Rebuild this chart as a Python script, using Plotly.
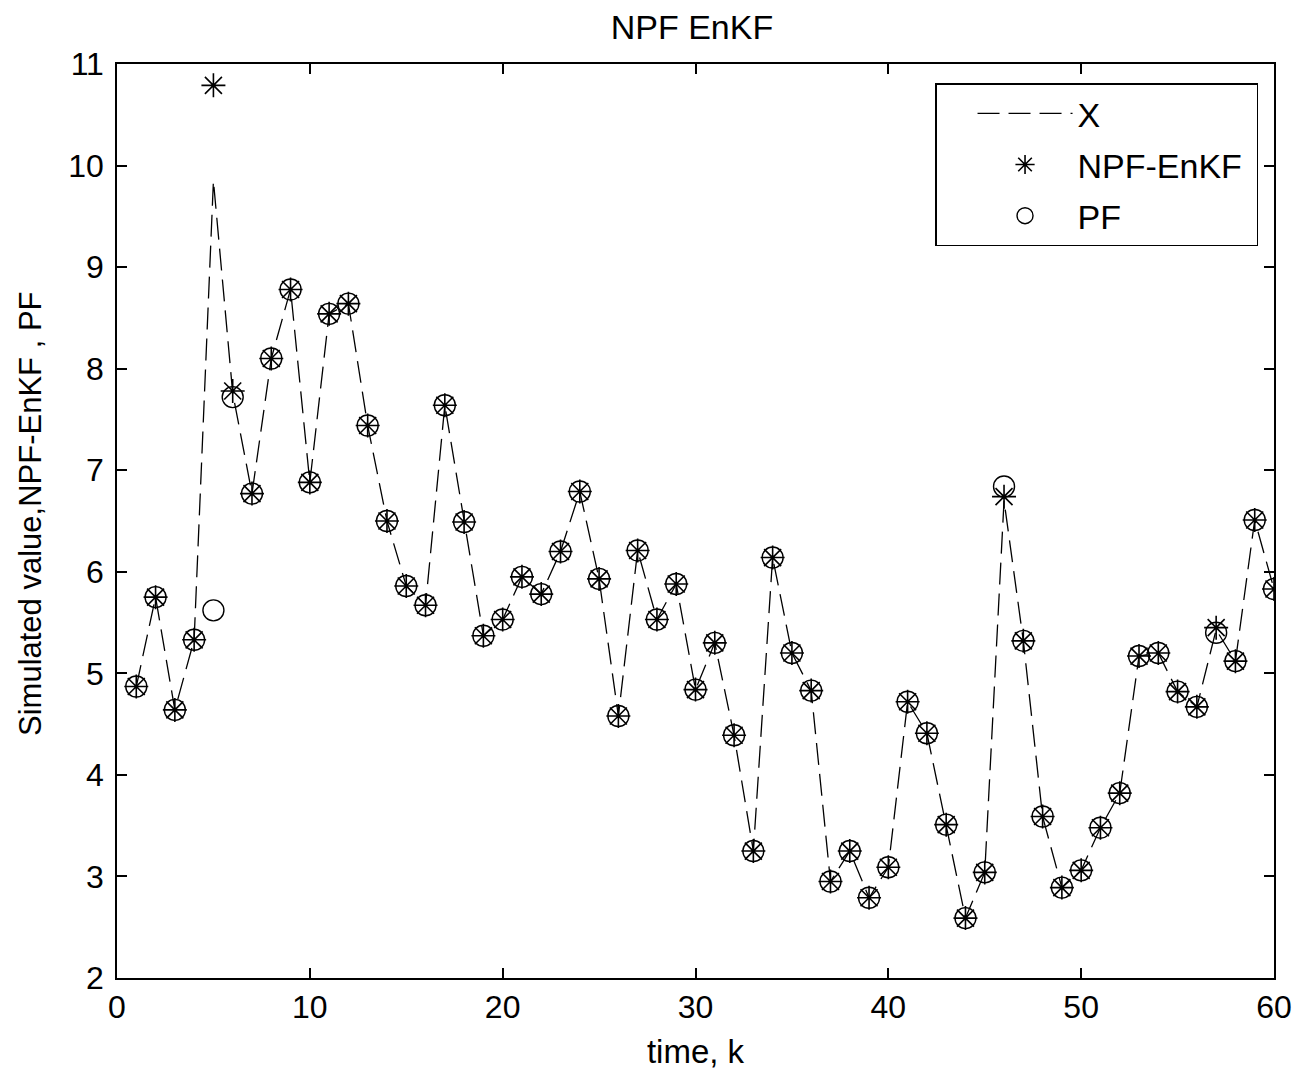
import plotly.graph_objects as go

k = list(range(1, 61))
x_true = [4.87, 5.75, 4.64, 5.33, 9.85, 7.76, 6.77, 8.10, 8.78, 6.88,
          8.54, 8.64, 7.44, 6.50, 5.86, 5.67, 7.64, 6.49, 5.37, 5.53,
          5.95, 5.78, 6.20, 6.79, 5.93, 4.58, 6.21, 5.53, 5.88, 4.84,
          5.30, 4.39, 3.25, 6.14, 5.20, 4.83, 2.95, 3.25, 2.79, 3.09,
          4.72, 4.41, 3.51, 2.59, 3.04, 6.70, 5.32, 3.59, 2.89, 3.06,
          3.48, 3.82, 5.17, 5.20, 4.82, 4.67, 5.43, 5.12, 6.51, 5.83]
npf_enkf = [4.87, 5.75, 4.64, 5.33, 10.79, 7.78, 6.77, 8.10, 8.78, 6.88,
            8.54, 8.64, 7.44, 6.50, 5.86, 5.67, 7.64, 6.49, 5.37, 5.53,
            5.95, 5.78, 6.20, 6.79, 5.93, 4.58, 6.21, 5.53, 5.88, 4.84,
            5.30, 4.39, 3.25, 6.14, 5.20, 4.83, 2.95, 3.25, 2.79, 3.09,
            4.72, 4.41, 3.51, 2.59, 3.04, 6.74, 5.32, 3.59, 2.89, 3.06,
            3.48, 3.82, 5.17, 5.20, 4.82, 4.67, 5.45, 5.12, 6.51, 5.83]
pf = [4.87, 5.75, 4.64, 5.33, 5.62, 7.72, 6.77, 8.10, 8.78, 6.88,
      8.54, 8.64, 7.44, 6.50, 5.86, 5.67, 7.64, 6.49, 5.37, 5.53,
      5.95, 5.78, 6.20, 6.79, 5.93, 4.58, 6.21, 5.53, 5.88, 4.84,
      5.30, 4.39, 3.25, 6.14, 5.20, 4.83, 2.95, 3.25, 2.79, 3.09,
      4.72, 4.41, 3.51, 2.59, 3.04, 6.84, 5.32, 3.59, 2.89, 3.06,
      3.48, 3.82, 5.17, 5.20, 4.82, 4.67, 5.40, 5.12, 6.51, 5.83]

x_ticks = [0, 10, 20, 30, 40, 50, 60]
y_ticks = [2, 3, 4, 5, 6, 7, 8, 9, 10, 11]

FONT = "Liberation Sans, Arial, sans-serif"

fig = go.Figure()
fig.add_trace(go.Scatter(
    x=k, y=x_true, mode="lines", name="X", legendgroup="a",
    line=dict(color="black", width=1.3, dash="22px,9px"),
))
fig.add_trace(go.Scatter(
    x=k, y=npf_enkf, mode="markers", name="NPF-EnKF\u00a0", legendgroup="b",
    marker=dict(symbol="asterisk-open", size=20, color="black",
                line=dict(color="black", width=1.6)),
))
fig.add_trace(go.Scatter(
    x=k, y=pf, mode="markers", name="PF", legendgroup="c",
    marker=dict(symbol="circle-open", size=21, color="black",
                line=dict(color="black", width=1.4)),
))

axis_common = dict(
    showgrid=False, zeroline=False, showline=True, linecolor="black",
    linewidth=1.5, mirror="ticks", ticks="inside", ticklen=10,
    tickcolor="black", tickwidth=1.5,
    tickfont=dict(family=FONT, size=32, color="black"),
)

fig.update_layout(
    width=1306, height=1074,
    margin=dict(l=109, r=40, t=56, b=104),
    paper_bgcolor="white", plot_bgcolor="white",
    font=dict(family=FONT, size=32, color="black"),
    title=dict(text="NPF EnKF", x=684 / 1306, xanchor="center",
               y=1 - 19 / 1074, yanchor="middle",
               font=dict(family=FONT, size=34, color="black")),
    xaxis=dict(range=[0, 60], tickvals=x_ticks,
               title=dict(text="time, k", standoff=16,
                          font=dict(family=FONT, size=33, color="black")),
               **axis_common),
    yaxis=dict(range=[2, 11], tickvals=y_ticks, ticklabelstandoff=5,
               **axis_common),
    legend=dict(x=0.9862, y=0.979, xanchor="right", yanchor="top",
                bgcolor="white", bordercolor="black", borderwidth=1.5,
                font=dict(family=FONT, size=34, color="black"),
                itemwidth=95, tracegroupgap=4, indentation=36),
    showlegend=True,
    annotations=[dict(
        text="Simulated value,NPF-EnKF , PF", textangle=-90,
        xref="paper", yref="paper", x=(22 - 109) / 1157, y=(970 - 506) / 914,
        xanchor="center", yanchor="middle", showarrow=False,
        font=dict(family=FONT, size=31, color="black"),
    )],
)

fig.write_html("out.html")
